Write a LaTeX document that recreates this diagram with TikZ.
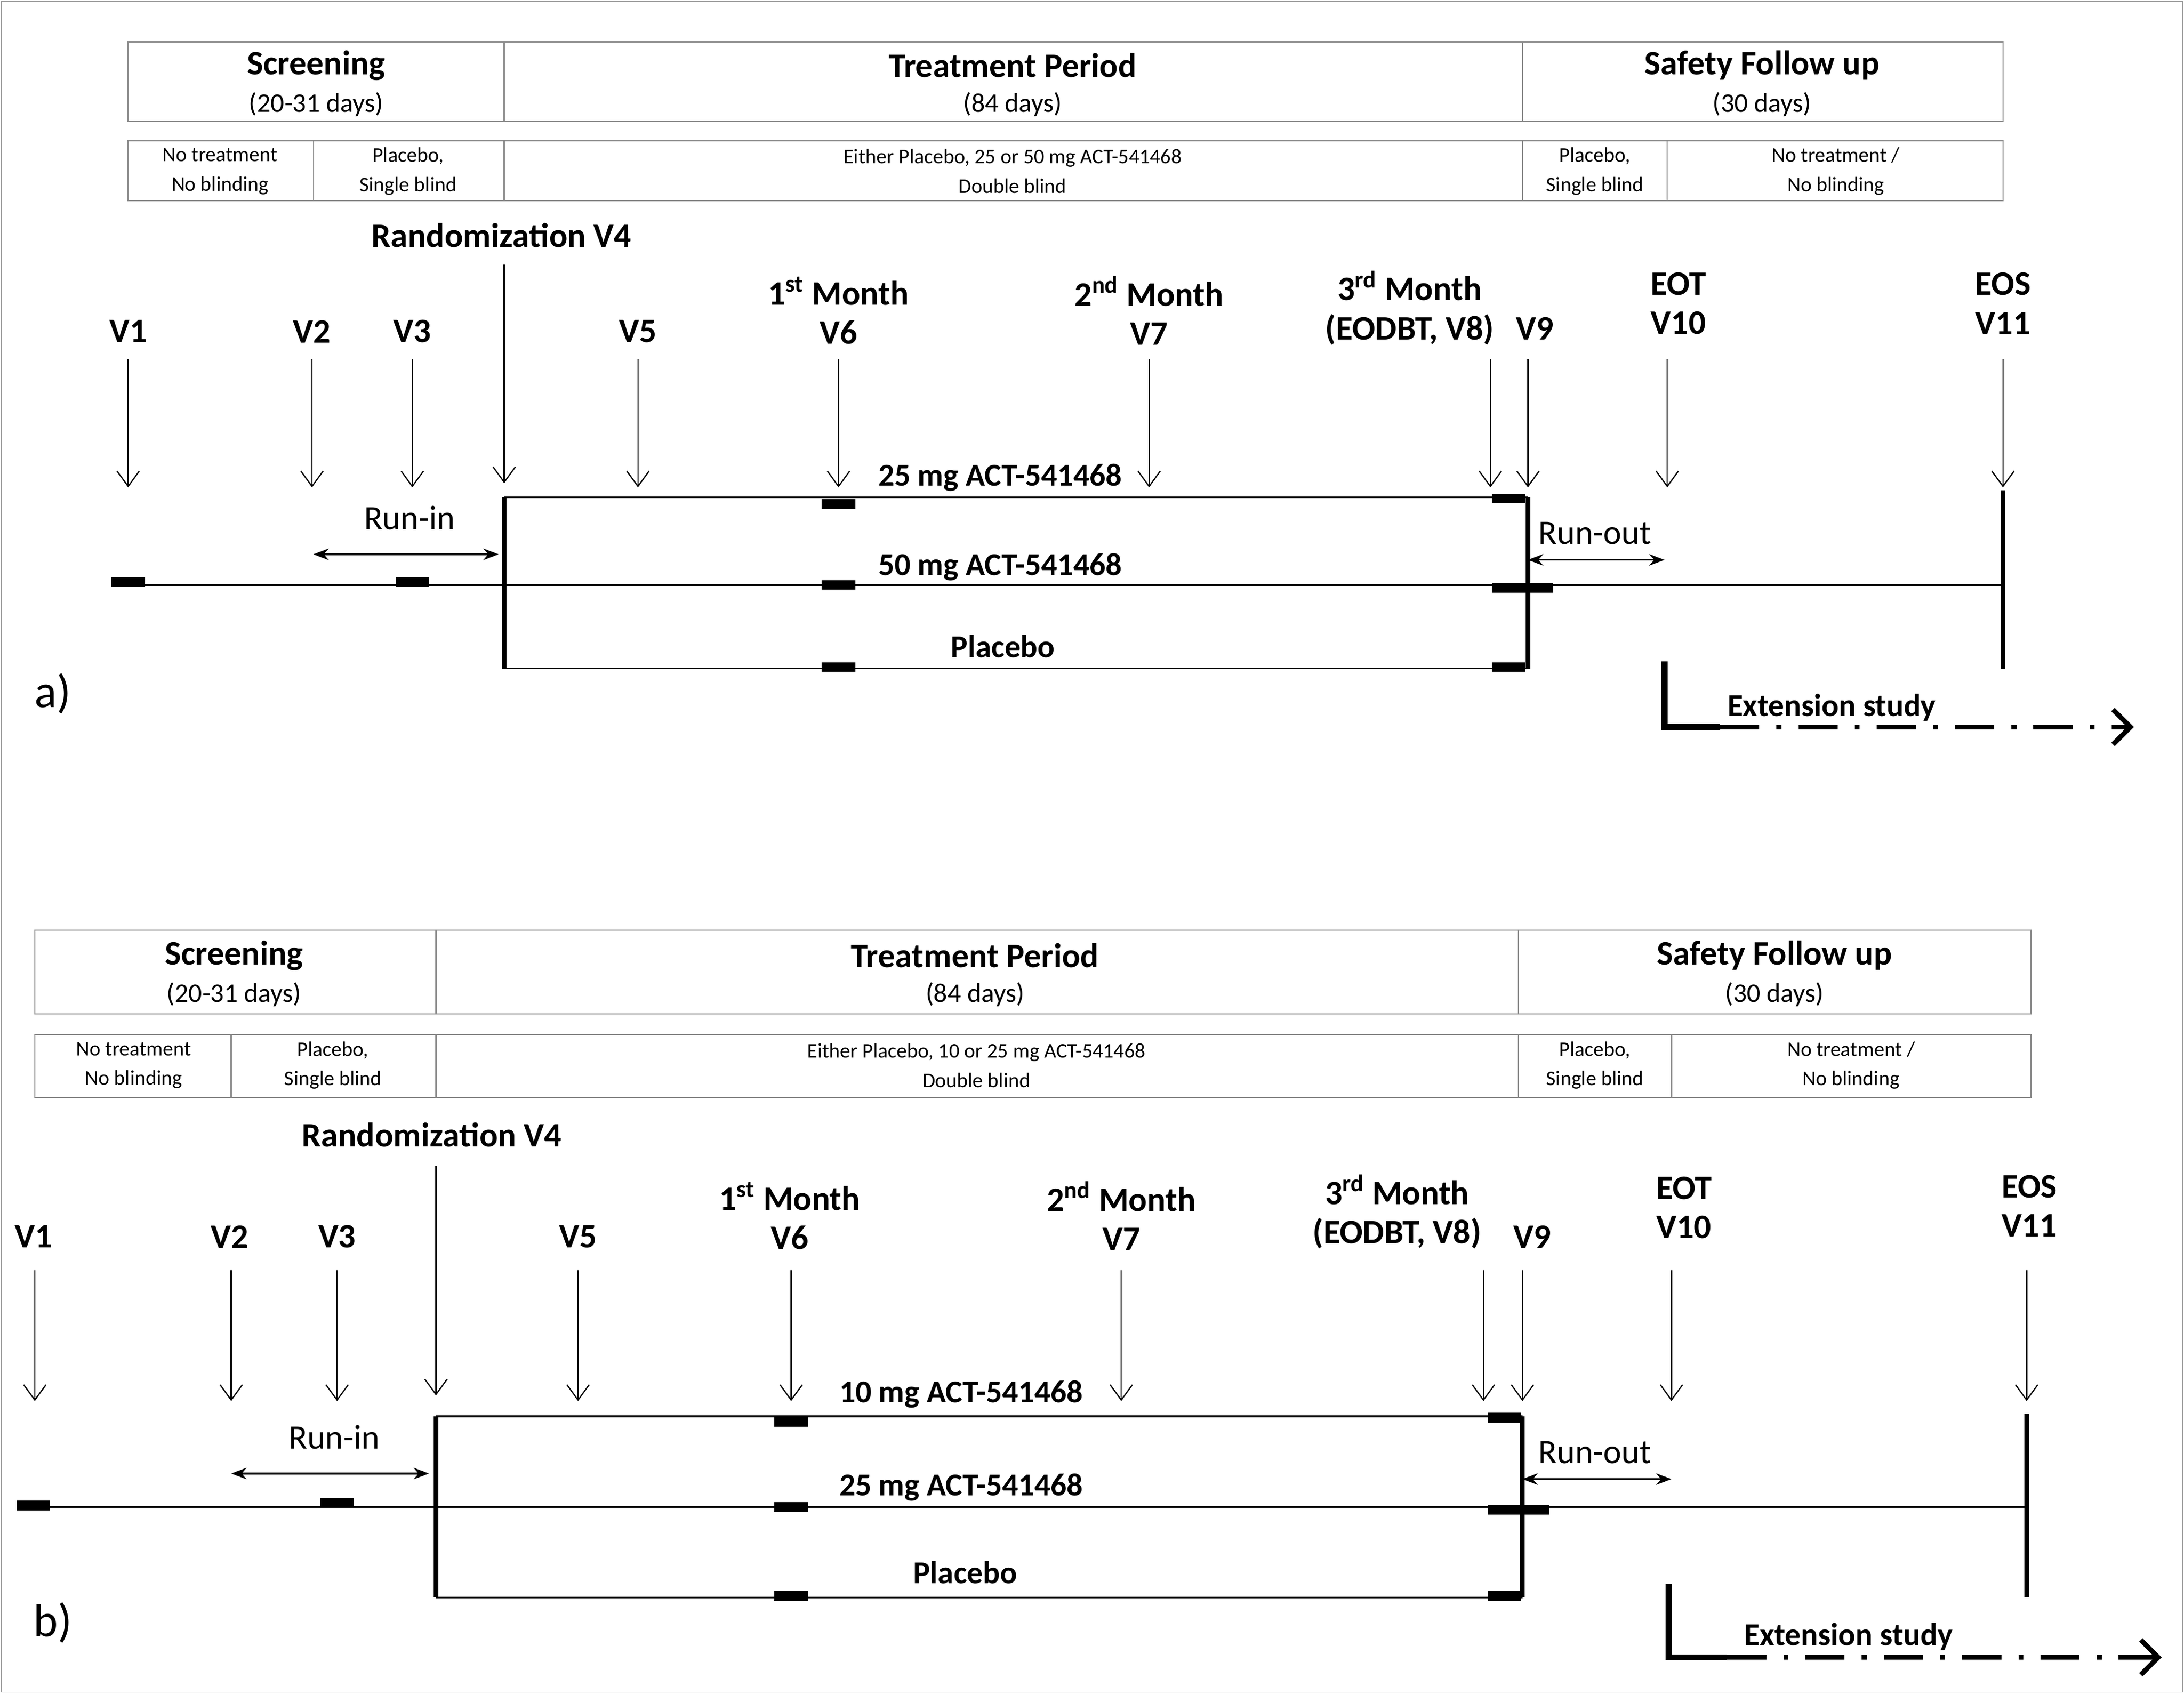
\documentclass[tikz,border=0pt]{standalone}
\usepackage{fontspec}
\setmainfont{Carlito}
\usetikzlibrary{positioning,arrows.meta}

\begin{document}
\begin{tikzpicture}[x=0.02cm,y=-0.02cm]
\tikzstyle{frame}=[draw=black!45,line width=0.5pt]
\tikzstyle{head}=[font=\fontsize{14}{15}\selectfont\bfseries,inner sep=0]
\tikzstyle{days}=[font=\fontsize{11}{12}\selectfont,inner sep=0]
\tikzstyle{small}=[font=\fontsize{8.5}{12}\selectfont,align=center,inner sep=0]
\tikzstyle{vis}=[font=\fontsize{14}{16}\selectfont\bfseries,align=center,inner sep=0]
\tikzstyle{arm}=[font=\fontsize{13}{14}\selectfont\bfseries,inner sep=0]
\tikzstyle{run}=[font=\fontsize{14}{15}\selectfont,inner sep=0]
\tikzstyle{dose}=[rectangle,fill=black,minimum width=0.48cm,minimum height=0.14cm,inner sep=0]
\tikzstyle{visit}=[-{Straight Barb[length=2.2mm,width=3.2mm]},line width=0.5pt]
\tikzstyle{span}=[{Stealth[length=2.2mm]}-{Stealth[length=2.2mm]},line width=0.7pt]
\tikzstyle{arm line}=[line width=0.7pt]
\tikzstyle{ext}=[line width=2pt,dash pattern=on 16pt off 7pt on 2pt off 7pt,-{Straight Barb[length=2.5mm,width=5mm]}]
\useasboundingbox (0,0) rectangle (1568,1216);
\draw[black!40] (1,1) rectangle (1567,1215);

% ---------- panel a ----------
\draw[frame] (92,30) rectangle (1438,87);
\draw[frame] (362,30) -- (362,87) (1093,30) -- (1093,87);
\node[head] (a-scr) at (227,47) {Screening};
\node[days] at (227,75) {(20-31 days)};
\node[head] (a-trt) at (727,47) {Treatment Period};
\node[days] at (727,75) {(84 days)};
\node[head] (a-saf) at (1265,47) {Safety Follow up};
\node[days] at (1265,75) {(30 days)};
\draw[frame] (92,101) rectangle (1438,144);
\draw[frame] (225,101) -- (225,144) (362,101) -- (362,144) (1093,101) -- (1093,144) (1197,101) -- (1197,144);
\node[small] at (158,123) {No treatment\\No blinding};
\node[small] at (293,123) {Placebo,\\Single blind};
\node[small] at (727,123) {Either Placebo, 25 or 50 mg ACT-541468\\Double blind};
\node[small] at (1145,123) {Placebo,\\Single blind};
\node[small] at (1318,123) {No treatment /\\No blinding};

\node[vis] (a-rand) at (360,169) {Randomization V4};
\node[vis] (a-v1) at (92,238) {V1};
\node[vis] (a-v2) at (224,238) {V2};
\node[vis] (a-v3) at (296,238) {V3};
\node[vis] (a-v5) at (458,238) {V5};
\node[vis] (a-v6) at (602,223) {1\textsuperscript{st} Month\\V6};
\node[vis] (a-v7) at (825,223) {2\textsuperscript{nd} Month\\V7};
\node[vis] (a-v8) at (1012,221) {3\textsuperscript{rd} Month\\(EODBT, V8)};
\node[vis] (a-v9) at (1102,236) {V9};
\node[vis] (a-v10) at (1205,218) {EOT\\V10};
\node[vis] (a-v11) at (1438,218) {EOS\\V11};
\coordinate (a-r0) at (362,190);
\coordinate (a-r1) at (362,347);
\draw[visit] (a-r0) -- (a-r1);
\foreach \i/\x in {1/92,2/224,3/296,5/458,6/602,7/825,8/1070,9/1097,10/1197,11/1438}{
  \coordinate (a-t\i) at (\x,258);
  \coordinate (a-h\i) at (\x,350);
  \draw[visit] (a-t\i) -- (a-h\i);
}

\coordinate (a-start) at (85,420);
\coordinate (a-eos) at (1438,420);
\coordinate (a-tl) at (362,357);
\coordinate (a-tr) at (1097,357);
\coordinate (a-bl) at (362,480);
\coordinate (a-br) at (1097,480);
\draw[arm line] (a-start) -- (a-eos);
\draw[arm line] (a-tl) -- (a-tr) (a-bl) -- (a-br);
\draw[line width=1.8pt] (a-tl) -- (a-bl) (a-tr) -- (a-br);
\coordinate (a-eost) at (1438,352);
\coordinate (a-eosb) at (1438,480);
\draw[line width=1.8pt] (a-eost) -- (a-eosb);
\foreach \p in {(92,418),(296,418),(602,362),(602,420),(602,479),(1083,358),(1083,422),(1083,479),(1103,422)}
  \node[dose] at \p {};
\node[arm] at (718,343) {25 mg ACT-541468};
\node[arm] at (718,407) {50 mg ACT-541468};
\node[arm] at (720,464) {Placebo};

\node[run] (a-runin) at (294,372) {Run-in};
\coordinate (a-ri0) at (225,398);
\coordinate (a-ri1) at (358,398);
\draw[span] (a-ri0) -- (a-ri1);
\node[run] (a-runout) at (1145,383) {Run-out};
\coordinate (a-ro0) at (1097,402);
\coordinate (a-ro1) at (1195,402);
\draw[span] (a-ro0) -- (a-ro1);

\node[font=\fontsize{19}{20}\selectfont] at (38,498) {a)};
\coordinate (a-e0) at (1195,475);
\coordinate (a-e1) at (1195,522);
\coordinate (a-e2) at (1235,522);
\coordinate (a-e3) at (1532,522);
\draw[line width=2.5pt] (a-e0) -- (a-e1) -- (a-e2);
\draw[ext] (a-e2) -- (a-e3);
\node[arm] at (1315,508) {Extension study};

% ---------- panel b ----------
\draw[frame] (25,668) rectangle (1458,728);
\draw[frame] (313,668) -- (313,728) (1090,668) -- (1090,728);
\node[head] (b-scr) at (168,686) {Screening};
\node[days] at (168,714) {(20-31 days)};
\node[head] (b-trt) at (700,686) {Treatment Period};
\node[days] at (700,714) {(84 days)};
\node[head] (b-saf) at (1274,686) {Safety Follow up};
\node[days] at (1274,714) {(30 days)};
\draw[frame] (25,743) rectangle (1458,788);
\draw[frame] (166,743) -- (166,788) (313,743) -- (313,788) (1090,743) -- (1090,788) (1200,743) -- (1200,788);
\node[small] at (96,765) {No treatment\\No blinding};
\node[small] at (239,765) {Placebo,\\Single blind};
\node[small] at (701,765) {Either Placebo, 10 or 25 mg ACT-541468\\Double blind};
\node[small] at (1145,765) {Placebo,\\Single blind};
\node[small] at (1329,765) {No treatment /\\No blinding};

\node[vis] (b-rand) at (310,815) {Randomization V4};
\node[vis] (b-v1) at (24,888) {V1};
\node[vis] (b-v2) at (165,888) {V2};
\node[vis] (b-v3) at (242,888) {V3};
\node[vis] (b-v5) at (415,888) {V5};
\node[vis] (b-v6) at (567,873) {1\textsuperscript{st} Month\\V6};
\node[vis] (b-v7) at (805,873) {2\textsuperscript{nd} Month\\V7};
\node[vis] (b-v8) at (1003,870) {3\textsuperscript{rd} Month\\(EODBT, V8)};
\node[vis] (b-v9) at (1100,888) {V9};
\node[vis] (b-v10) at (1209,867) {EOT\\V10};
\node[vis] (b-v11) at (1457,866) {EOS\\V11};
\coordinate (b-r0) at (313,837);
\coordinate (b-r1) at (313,1002);
\draw[visit] (b-r0) -- (b-r1);
\foreach \i/\x in {1/25,2/166,3/242,5/415,6/568,7/805,8/1065,9/1093,10/1200,11/1455}{
  \coordinate (b-t\i) at (\x,912);
  \coordinate (b-h\i) at (\x,1006);
  \draw[visit] (b-t\i) -- (b-h\i);
}

\coordinate (b-start) at (15,1082);
\coordinate (b-eos) at (1455,1082);
\coordinate (b-tl) at (313,1017);
\coordinate (b-tr) at (1093,1017);
\coordinate (b-bl) at (313,1147);
\coordinate (b-br) at (1093,1147);
\draw[arm line] (b-start) -- (b-eos);
\draw[arm line] (b-tl) -- (b-tr) (b-bl) -- (b-br);
\draw[line width=1.8pt] (b-tl) -- (b-bl) (b-tr) -- (b-br);
\coordinate (b-eost) at (1455,1015);
\coordinate (b-eosb) at (1455,1147);
\draw[line width=1.8pt] (b-eost) -- (b-eosb);
\foreach \p in {(24,1081),(242,1079),(568,1021),(568,1082),(568,1146),(1080,1018),(1080,1084),(1080,1146),(1100,1084)}
  \node[dose] at \p {};
\node[arm] at (690,1001) {10 mg ACT-541468};
\node[arm] at (690,1068) {25 mg ACT-541468};
\node[arm] at (693,1129) {Placebo};

\node[run] (b-runin) at (240,1032) {Run-in};
\coordinate (b-ri0) at (166,1058);
\coordinate (b-ri1) at (308,1058);
\draw[span] (b-ri0) -- (b-ri1);
\node[run] (b-runout) at (1145,1043) {Run-out};
\coordinate (b-ro0) at (1093,1062);
\coordinate (b-ro1) at (1200,1062);
\draw[span] (b-ro0) -- (b-ro1);

\node[font=\fontsize{19}{20}\selectfont] at (38,1165) {b)};
\coordinate (b-e0) at (1198,1137);
\coordinate (b-e1) at (1198,1190);
\coordinate (b-e2) at (1240,1190);
\coordinate (b-e3) at (1552,1190);
\draw[line width=2.5pt] (b-e0) -- (b-e1) -- (b-e2);
\draw[ext] (b-e2) -- (b-e3);
\node[arm] at (1327,1175) {Extension study};
\end{tikzpicture}
\end{document}
